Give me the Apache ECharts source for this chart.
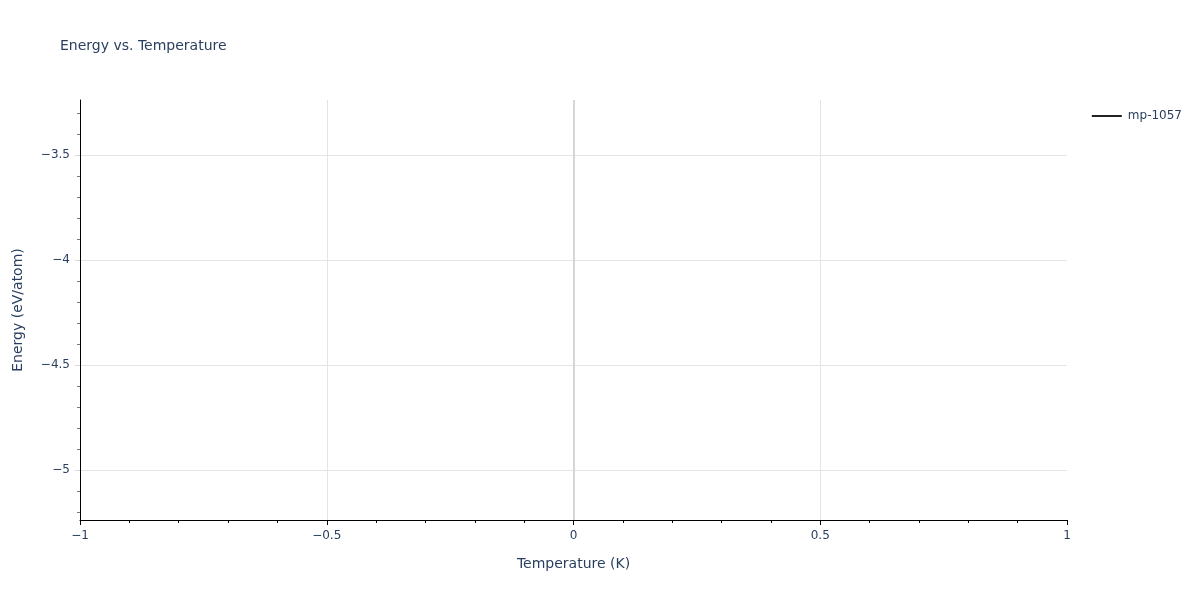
<!DOCTYPE html>
<html>
<head>
<meta charset="utf-8">
<script src="https://cdn.jsdelivr.net/npm/echarts@6/dist/echarts.min.js"></script>
<style>html,body{margin:0;padding:0;background:#fff;}#chart{width:1200px;height:600px;}</style>
</head>
<body>
<div id="chart"></div>
<script>
const seriesName = 'mp-1057';
const temperatures = [0];
const energies = [-4.238];
const xTicks = [-1, -0.5, 0, 0.5, 1];
const yMajorTicks = [-5, -4.5, -4, -3.5];
const yMinorTicks = [-5.2, -5.1, -4.9, -4.8, -4.7, -4.6, -4.4, -4.3, -4.2, -4.1, -3.9, -3.8, -3.7, -3.6, -3.4, -3.3];
const yRange = [-5.238, -3.238];
const xRange = [-1, 1];

const FONT = 'DejaVu Sans';
const TXT = '#2a3f5f';
const fmt = v => String(+v.toFixed(2)).replace('-', '\u2212');

const chart = echarts.init(document.getElementById('chart'));
chart.setOption({
  animation: false,
  backgroundColor: '#fff',
  title: {
    text: 'Energy vs. Temperature',
    left: 60, top: 39, padding: 0,
    textStyle: { fontFamily: FONT, fontSize: 14, fontWeight: 'normal', color: TXT }
  },
  legend: {
    data: [{ name: seriesName, icon: 'rect' }],
    right: 18, top: 110, orient: 'vertical', padding: 0,
    itemWidth: 30, itemHeight: 2, itemGap: 6,
    itemStyle: { color: '#222' },
    textStyle: { fontFamily: FONT, fontSize: 12, color: TXT, padding: [0, 0, 0, 1] }
  },
  grid: { left: 80, right: 133, top: 100, bottom: 80, containLabel: false, outerBoundsMode: 'none' },
  xAxis: {
    type: 'value', min: xRange[0], max: xRange[1], interval: 0.5,
    name: 'Temperature (K)', nameLocation: 'middle', nameGap: 37,
    nameTextStyle: { fontFamily: FONT, fontSize: 14, color: TXT },
    axisLine: { show: true, onZero: false, lineStyle: { color: '#000', width: 1 } },
    axisTick: { show: true, length: 5, lineStyle: { color: '#000' } },
    minorTick: { show: true, splitNumber: 5, length: 3, lineStyle: { color: '#000' } },
    axisLabel: { margin: 10, fontFamily: FONT, fontSize: 12, color: TXT, formatter: fmt },
    splitLine: { show: true, showMaxLine: false, lineStyle: { color: '#e4e4e4', width: 1 } }
  },
  yAxis: [{
    type: 'value', min: yRange[0], max: yRange[1],
    name: 'Energy (eV/atom)', nameLocation: 'middle', nameGap: 55,
    nameTextStyle: { fontFamily: FONT, fontSize: 14, color: TXT },
    axisLine: { show: true, onZero: false, lineStyle: { color: '#000', width: 1 } },
    axisTick: { show: true, length: 5, customValues: yMajorTicks, lineStyle: { color: '#d8d8d8' } },
    axisLabel: { margin: 10, fontFamily: FONT, fontSize: 12, color: TXT, customValues: yMajorTicks, formatter: fmt },
    splitLine: { show: true, lineStyle: { color: '#e4e4e4', width: 1 } }
  }, {
    type: 'value', min: yRange[0], max: yRange[1], position: 'left', offset: 0,
    axisLine: { show: false, onZero: false },
    axisTick: { show: true, length: 3, customValues: yMinorTicks, lineStyle: { color: '#777' } },
    axisLabel: { show: false },
    splitLine: { show: false }
  }],
  series: [{
    name: seriesName,
    type: 'line',
    yAxisIndex: 0,
    symbol: 'none',
    showSymbol: false,
    lineStyle: { color: '#222', width: 2 },
    itemStyle: { color: '#222' },
    data: temperatures.map((t, i) => [t, energies[i]]),
    markLine: {
      silent: true, symbol: 'none', label: { show: false },
      lineStyle: { color: '#d6d6d6', width: 2, type: 'solid' },
      data: [{ xAxis: 0 }]
    }
  }]
});
</script>
</body>
</html>
